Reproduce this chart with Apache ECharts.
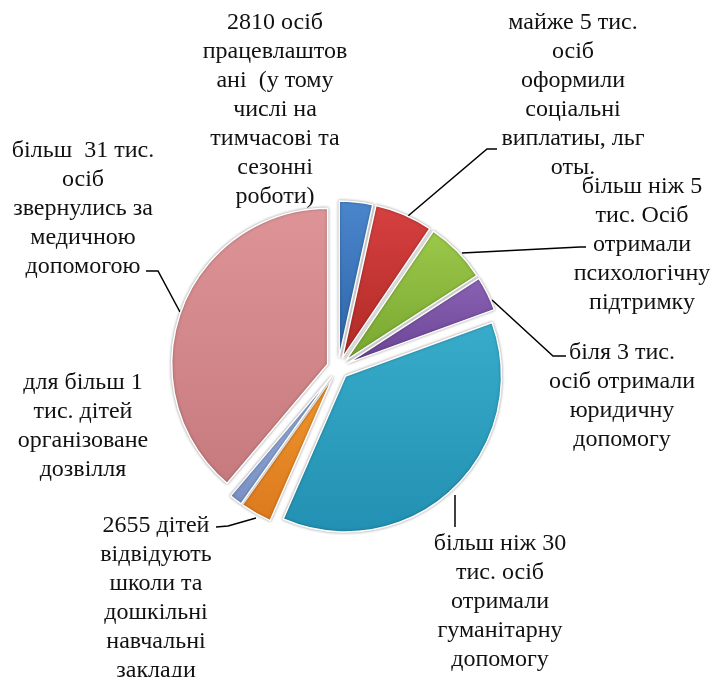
<!DOCTYPE html>
<html>
<head>
<meta charset="utf-8">
<script src="https://cdn.jsdelivr.net/npm/echarts@6/dist/echarts.min.js"></script>
<style>
html,body{margin:0;padding:0;background:#fff;}
#chart{width:713px;height:677px;}
</style>
</head>
<body>
<div id="chart"></div>
<script>
// ---- data ----
const categories = [
  "2810 осіб\nпрацевлаштов\nані  (у тому\nчислі на\nтимчасові та\nсезонні\nроботи)",
  "майже 5 тис.\nосіб\nоформили\nсоціальні\nвиплатиы, льг\nоты.",
  "більш ніж 5\nтис. Осіб\nотримали\nпсихологічну\nпідтримку",
  "біля 3 тис.\nосіб отримали\nюридичну\nдопомогу",
  "більш ніж 30\nтис. осіб\nотримали\nгуманітарну\nдопомогу",
  "2655 дітей\nвідвідують\nшколи та\nдошкільні\nнавчальні\nзаклади",
  "для більш 1\nтис. дітей\nорганізоване\nдозвілля",
  "більш  31 тис.\nосіб\nзвернулись за\nмедичною\nдопомогою"
];
const values = [2810, 4900, 5200, 2900, 30200, 2655, 1100, 31600];

// ---- styles / layout ----
const colorsTop    = ['#4a86cc', '#d64040', '#9cc84a', '#8a62b4', '#38acca', '#f0962e', '#98b2de', '#de9497'];
const colorsBottom = ['#2e64a8', '#b02a26', '#78a630', '#6a4494', '#2290b2', '#dc7a1e', '#7890c4', '#c67a7d'];
const labelPos = [
  [275, 8], [573, 8], [642, 172], [622, 338], [500, 529], [156, 511], [83, 368], [83, 136]
];
const leaderLines = [
  null,
  [[408, 216], [487, 149], [497, 149]],
  [[462, 253], [580, 247], [586, 247]],
  [[492, 300], [553, 356], [566, 356]],
  [[455, 495], [455, 527]],
  [[256, 518], [228, 526], [216, 527]],
  null,
  [[180, 312], [158, 271], [146, 271]]
];

const FONT = '24px "Liberation Serif", "Times New Roman", serif';
const graphics = [];
categories.forEach((t, i) => {
  graphics.push({
    type: 'text',
    x: labelPos[i][0],
    y: labelPos[i][1],
    silent: true,
    style: {
      text: t,
      font: FONT,
      lineHeight: 29,
      fill: '#111',
      align: 'center',
      verticalAlign: 'top'
    }
  });
  if (leaderLines[i]) {
    graphics.push({
      type: 'polyline',
      silent: true,
      shape: {points: leaderLines[i]},
      style: {stroke: '#000', lineWidth: 1.5, fill: null}
    });
  }
});

const chart = echarts.init(document.getElementById('chart'), null, {renderer: 'canvas'});
chart.setOption({
  animation: false,
  backgroundColor: '#fff',
  graphic: graphics,
  series: [{
    type: 'pie',
    center: [338, 368],
    radius: [0, 156],
    startAngle: 90,
    clockwise: true,
    selectedMode: 'multiple',
    selectedOffset: 11,
    emphasis: {disabled: true},
    label: {show: false},
    labelLine: {show: false},
    data: values.map((v, i) => ({
      value: v,
      name: categories[i],
      selected: true,
      itemStyle: {
        color: {
          type: 'linear', x: 0, y: 0, x2: 0, y2: 1,
          colorStops: [
            {offset: 0, color: colorsTop[i]},
            {offset: 1, color: colorsBottom[i]}
          ]
        }
      }
    })),
    itemStyle: {
      borderColor: '#ffffff',
      borderWidth: 1.5,
      shadowBlur: 3,
      shadowColor: 'rgba(0,0,0,0.35)'
    },
    select: {itemStyle: {borderColor: '#ffffff', borderWidth: 1.5}}
  }]
});
</script>
</body>
</html>
